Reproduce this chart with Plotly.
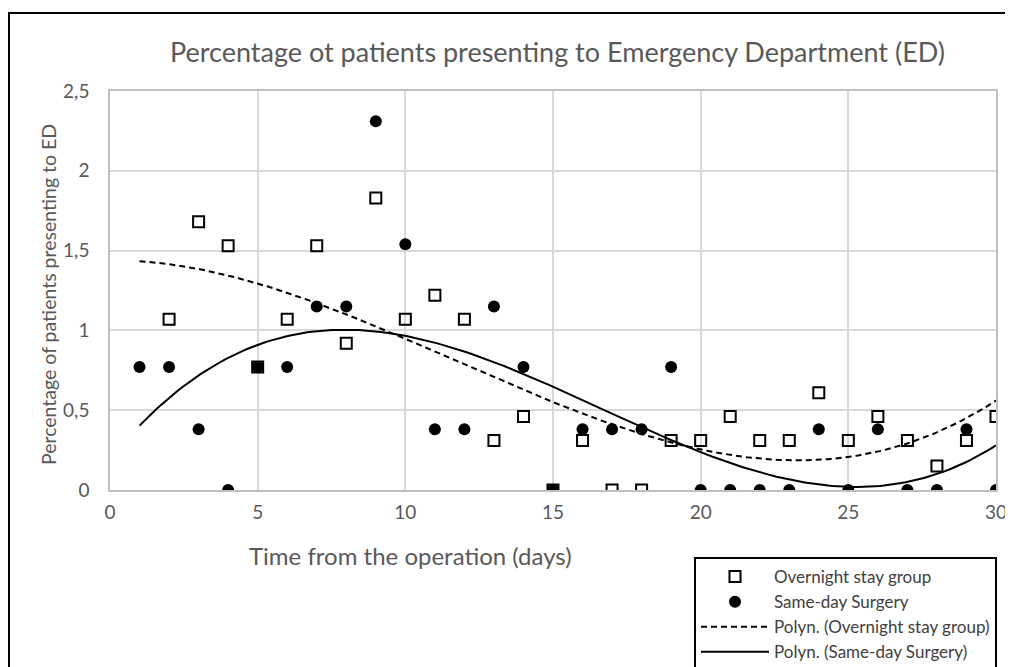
import numpy as np
import plotly.graph_objects as go

days = list(range(1, 31))
overnight = [None, 1.07, 1.68, 1.53, 0.77, 1.07, 1.53, 0.92, 1.83, 1.07,
             1.22, 1.07, 0.31, 0.46, 0.0, 0.31, 0.0, 0.0, 0.31, 0.31,
             0.46, 0.31, 0.31, 0.61, 0.31, 0.46, 0.31, 0.15, 0.31, 0.46]
sameday = [0.77, 0.77, 0.38, 0.0, 0.77, 0.77, 1.15, 1.15, 2.31, 1.54,
           0.38, 0.38, 1.15, 0.77, 0.0, 0.38, 0.38, 0.38, 0.77, 0.0,
           0.0, 0.0, 0.0, 0.38, 0.0, 0.38, 0.0, 0.0, 0.38, 0.0]
y_ticks = [0, 0.5, 1, 1.5, 2, 2.5]
y_tick_labels = ["0", "0,5", "1", "1,5", "2", "2,5"]
x_ticks = [0, 5, 10, 15, 20, 25, 30]

TXT = "#595959"
FONT = "Lato, 'Open Sans', sans-serif"

def poly_trend(xs, ys, deg=3):
    pts = [(x, y) for x, y in zip(xs, ys) if y is not None]
    px = np.array([p[0] for p in pts], float)
    py = np.array([p[1] for p in pts], float)
    c = np.polyfit(px, py, deg)
    xx = np.linspace(min(xs), max(xs), 200)
    return xx, np.polyval(c, xx)

xo, yo = poly_trend(days, overnight)
xs_, ys_ = poly_trend(days, sameday)

fig = go.Figure()
fig.add_trace(go.Scatter(x=days, y=overnight, mode="markers", name="Overnight stay group",
                         marker=dict(symbol="square-open", size=11, color="black",
                                     line=dict(width=2, color="black"))))
fig.add_trace(go.Scatter(x=days, y=sameday, mode="markers", name="Same-day Surgery",
                         marker=dict(symbol="circle", size=12, color="black")))
fig.add_trace(go.Scatter(x=xo, y=yo, mode="lines", name="Polyn. (Overnight stay group)",
                         line=dict(color="black", width=2, dash="6px,4px")))
fig.add_trace(go.Scatter(x=xs_, y=ys_, mode="lines", name="Polyn. (Same-day Surgery)",
                         line=dict(color="black", width=2)))

# page body has an 8px margin; work in screenshot pixels and shift
OFF = 8
W, H = 1013 - OFF, 667 - OFF
L, R, T, B = 110 - OFF, 996 - OFF, 91 - OFF, 490 - OFF
pw, ph = R - L, B - T

def px2x(p):
    return (p - OFF - L) / pw

def py2y(p):
    return (B - (p - OFF)) / ph

fig.update_layout(
    width=W, height=H,
    margin=dict(l=L, r=W - R, t=T, b=H - B, autoexpand=False),
    paper_bgcolor="white", plot_bgcolor="white",
    font=dict(family=FONT, color=TXT, size=17),
    showlegend=True,
    legend=dict(x=px2x(694), y=py2y(557), xanchor="left", yanchor="top",
                bordercolor="black", borderwidth=2, bgcolor="white",
                font=dict(size=17, color="#404040", family=FONT),
                itemwidth=68, tracegroupgap=0, traceorder="normal"),
    xaxis=dict(range=[0, 30], tickvals=x_ticks, showgrid=True, gridcolor="#d9d9d9",
               gridwidth=1.5, showline=True, linecolor="#bfbfbf", linewidth=1.5,
               mirror=True, zeroline=False, ticks="", tickfont=dict(size=19, color=TXT),
               ticklabelstandoff=4),
    yaxis=dict(range=[0, 2.5], tickvals=y_ticks, ticktext=y_tick_labels, showgrid=True,
               gridcolor="#d9d9d9", gridwidth=1.5, showline=True, linecolor="#bfbfbf",
               linewidth=1.5, mirror=True, zeroline=False, ticks="",
               tickfont=dict(size=19, color=TXT), ticklabelstandoff=15),
    annotations=[
        dict(text="Percentage ot patients presenting to Emergency Department (ED)",
             xref="paper", yref="paper", x=px2x(557), y=py2y(52), showarrow=False,
             xanchor="center", yanchor="middle", font=dict(size=27, color=TXT)),
        dict(text="Percentage of patients presenting to ED", textangle=-90,
             xref="paper", yref="paper", x=px2x(48), y=py2y(295), showarrow=False,
             xanchor="center", yanchor="middle", font=dict(size=19.5, color=TXT)),
        dict(text="Time from the operation (days)",
             xref="paper", yref="paper", x=px2x(410), y=py2y(555), showarrow=False,
             xanchor="center", yanchor="middle", font=dict(size=24, color=TXT)),
    ],
    shapes=[dict(type="rect", xref="paper", yref="paper",
                 x0=px2x(9), x1=px2x(1012), y0=py2y(700), y1=py2y(13),
                 line=dict(color="black", width=2), layer="below")],
)

fig.write_html("out.html")
